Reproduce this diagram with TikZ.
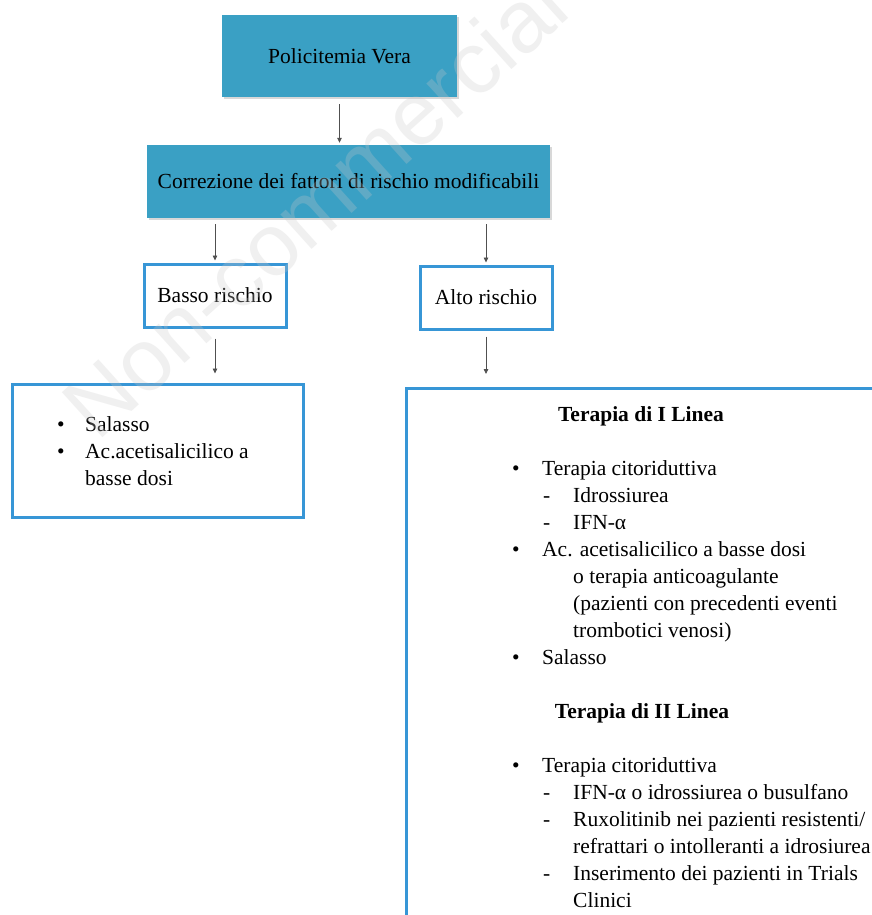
\documentclass[tikz,border=0pt]{standalone}
\usepackage{fontspec}
\setmainfont{Liberation Serif}
\newfontfamily\wmfont{Liberation Sans}
\usetikzlibrary{arrows.meta,shadows,calc}
\definecolor{tealfill}{RGB}{58,160,196}
\definecolor{boxblue}{RGB}{55,150,214}
\definecolor{arrgray}{RGB}{80,80,80}
\definecolor{wmgray}{RGB}{200,200,200}
\newcommand{\mainsize}{\fontsize{21.5}{27}\selectfont}
\newcommand{\bulA}{\makebox[28pt][l]{•}}
\newcommand{\bulB}{\makebox[30pt][l]{•}}
\newcommand{\subD}{\hspace*{31pt}\makebox[30pt][l]{-}}
\newcommand{\contI}{\hspace*{61pt}}
\begin{document}
\begin{tikzpicture}[x=1pt,y=-1pt,
  tealbox/.style={fill=tealfill, draw=none, inner sep=0pt, font=\mainsize,
    drop shadow={shadow xshift=1.5pt, shadow yshift=-2pt, opacity=0.3}},
  bluebox/.style={draw=boxblue, line width=3pt, fill=white, inner sep=0pt, font=\mainsize},
  txt/.style={inner sep=0pt, font=\mainsize, anchor=base west},
  ttl/.style={inner sep=0pt, font=\mainsize\bfseries, anchor=base},
  arr/.style={draw=arrgray, line width=0.8pt, -{Triangle[length=5pt,width=4.5pt]}},
  wm/.style={inner sep=0pt, font=\wmfont\fontsize{88}{88}\selectfont, text=wmgray, text opacity=0.27}
]
\useasboundingbox (0,0) rectangle (872,915);
\clip (0,0) rectangle (872,915);
\fill[white] (0,0) rectangle (872,915);

% boxes
\node[tealbox, minimum width=235pt, minimum height=82pt] (pv) at (339.5,56) {Policitemia Vera};
\node[tealbox, minimum width=403pt, minimum height=73pt] (corr) at (348.5,181.5) {Correzione dei fattori di rischio modificabili};
\node[bluebox, minimum width=142pt, minimum height=63pt] (basso) at (215,295.5) {Basso rischio};
\node[bluebox, minimum width=132pt, minimum height=63pt] (alto) at (486,297.5) {Alto rischio};
\node[bluebox, minimum width=291pt, minimum height=133pt] (low) at (158,450.5) {};
\node[bluebox, minimum width=490pt, minimum height=560pt, anchor=north west] (high) at (405,387) {};

% connectors
\draw[arr, shorten <=7pt, shorten >=2pt] (pv.south) -- (pv.south |- corr.north);
\draw[arr, shorten <=6pt, shorten >=2pt] (corr.south -| basso.north) -- (basso.north);
\draw[arr, shorten <=6pt, shorten >=2pt] (corr.south -| alto.north) -- (alto.north);
\draw[arr, shorten <=10pt, shorten >=9pt] (basso.south) -- (basso.south |- low.north);
\draw[arr, shorten <=6pt, shorten >=13pt] (alto.south) -- (alto.south |- high.north);

% low risk text
\node[txt] (lowtxt) at (57,431) {\mainsize\begin{tabular}[t]{@{}l@{}}
\bulA Salasso\\
\bulA Ac.acetisalicilico a\\
\hspace*{28pt}basse dosi
\end{tabular}};

% high risk text
\node[ttl] (t1) at (641,421) {Terapia di I Linea};
\node[txt] (l1) at (512,475) {\mainsize\begin{tabular}[t]{@{}l@{}}
\bulB Terapia citoriduttiva\\
\subD Idrossiurea\\
\subD IFN-α\\
\bulB Ac. acetisalicilico a basse dosi\\
\contI o terapia anticoagulante\\
\contI (pazienti con precedenti eventi\\
\contI trombotici venosi)\\
\bulB Salasso
\end{tabular}};
\node[ttl] (t2) at (642,718) {Terapia di II Linea};
\node[txt] (l2) at (512,772) {\mainsize\begin{tabular}[t]{@{}l@{}}
\bulB Terapia citoriduttiva\\
\subD IFN-α o idrossiurea o busulfano\\
\subD Ruxolitinib nei pazienti resistenti/\\
\contI refrattari o intolleranti a idrosiurea\\
\subD Inserimento dei pazienti in Trials\\
\contI Clinici
\end{tabular}};

% watermark
\node[wm, rotate=42, anchor=base west] (wmark) at (97,443) {Non-commercial use only};
\end{tikzpicture}
\end{document}
